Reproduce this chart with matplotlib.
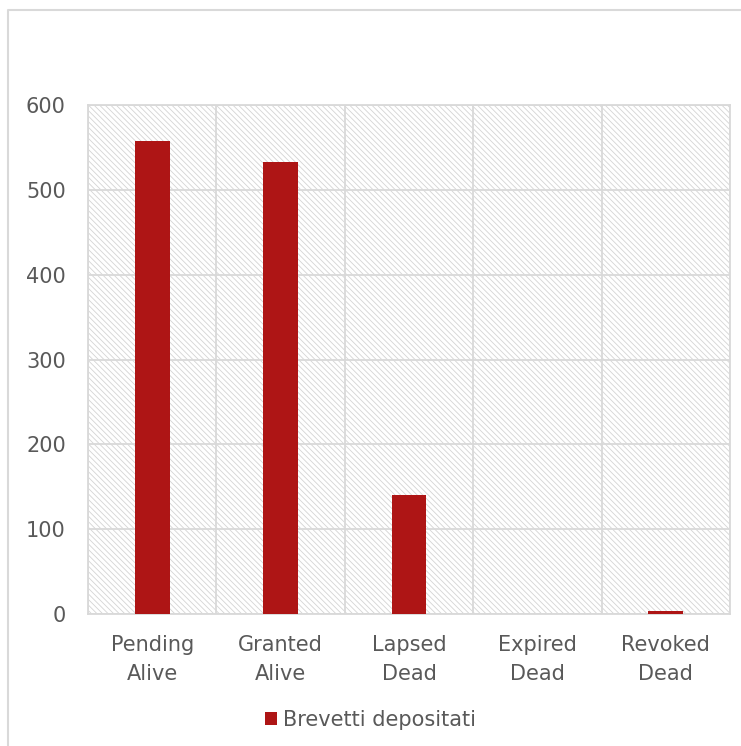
import matplotlib.pyplot as plt
from matplotlib.patches import Rectangle
from matplotlib.lines import Line2D
import numpy as np

# dati
categorie = ['Pending\nAlive', 'Granted\nAlive', 'Lapsed\nDead', 'Expired\nDead', 'Revoked\nDead']
brevetti = [557, 533, 140, 0, 4]
serie = 'Brevetti depositati'
y_ticks = [0, 100, 200, 300, 400, 500, 600]

rosso = '#AE1515'
grigio_testo = '#595959'
grigio_linee = '#D9D9D9'

plt.rcParams['font.family'] = ['DejaVu Sans']
plt.rcParams['hatch.color'] = '#D4D4D4'
plt.rcParams['hatch.linewidth'] = 0.6

fig = plt.figure(figsize=(7.41, 7.46), dpi=100)

# cornice esterna del grafico: solo lato sinistro e superiore visibili
x0, y0 = 8 / 741, 1 - 10 / 746
fig.lines.append(Line2D([x0, x0, 1.0], [0.0, y0, y0], transform=fig.transFigure,
                        color=grigio_linee, linewidth=1.5))

ax = fig.add_axes([88 / 741, 1 - 614 / 746, (730 - 88) / 741, (614 - 105) / 746])

x = np.arange(len(categorie))
ax.set_xlim(-0.5, len(categorie) - 0.5)
ax.set_ylim(0, 600)

# sfondo tratteggiato
ax.add_patch(Rectangle((0, 0), 1, 1, transform=ax.transAxes, facecolor='white',
                       hatch='\\\\\\\\\\\\', edgecolor='#D4D4D4', linewidth=0, zorder=0))

# griglia
for yt in y_ticks:
    ax.axhline(yt, color=grigio_linee, linewidth=1.3, zorder=1)
for xb in np.arange(-0.5, len(categorie), 1.0):
    ax.axvline(xb, color=grigio_linee, linewidth=1.3, zorder=1)

ax.bar(x, brevetti, width=0.27, color=rosso, label=serie, zorder=3)

for s in ax.spines.values():
    s.set_color(grigio_linee)
    s.set_linewidth(1.3)

ax.set_yticks(y_ticks)
ax.set_xticks(x)
ax.set_xticklabels(categorie, linespacing=1.6)
ax.tick_params(axis='both', length=0, labelsize=15, colors=grigio_testo)
ax.tick_params(axis='y', pad=16)
ax.tick_params(axis='x', pad=15)

fig.legend(loc='center', bbox_to_anchor=(0.5, 1 - 720 / 746), frameon=False,
           fontsize=15, labelcolor=grigio_testo, handlelength=0.6, handleheight=0.6,
           handletextpad=0.3)

fig.savefig('out.png', dpi=100)
